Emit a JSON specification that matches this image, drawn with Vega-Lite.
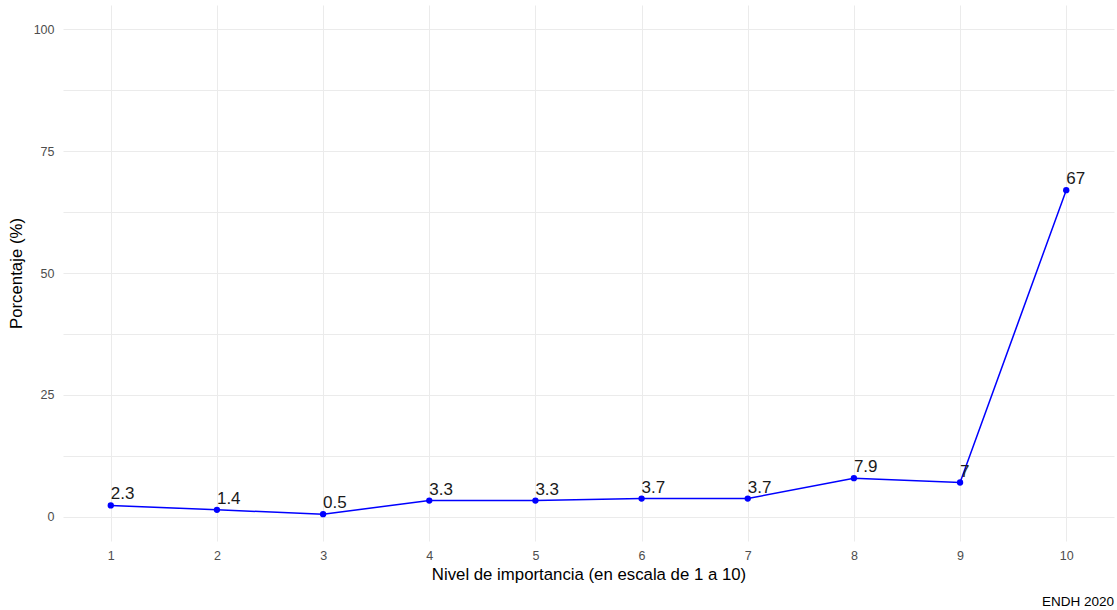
{
  "$schema": "https://vega.github.io/schema/vega-lite/v6.json",
  "width": 1051,
  "height": 536,
  "autosize": {"type": "none"},
  "padding": {"left": 63, "top": 5, "right": 3, "bottom": 69},
  "background": "white",
  "config": {
    "view": {"stroke": null},
    "font": "Liberation Sans",
    "axis": {
      "domain": false,
      "ticks": false,
      "gridColor": "#EBEBEB",
      "gridWidth": 1,
      "labelColor": "#4D4D4D",
      "labelFontSize": 12.5,
      "labelFont": "Liberation Sans",
      "titleFont": "Liberation Sans",
      "titleFontSize": 16.8,
      "titleFontWeight": "normal",
      "titleColor": "#000000"
    }
  },
  "title": {
    "text": "ENDH 2020",
    "orient": "bottom",
    "anchor": "end",
    "fontSize": 13.5,
    "fontWeight": "normal",
    "color": "#000000",
    "font": "Liberation Sans",
    "offset": 12
  },
  "data": {
    "values": [
      {"nivel": 1, "pct": 2.3, "label": "2.3"},
      {"nivel": 2, "pct": 1.4, "label": "1.4"},
      {"nivel": 3, "pct": 0.5, "label": "0.5"},
      {"nivel": 4, "pct": 3.3, "label": "3.3"},
      {"nivel": 5, "pct": 3.3, "label": "3.3"},
      {"nivel": 6, "pct": 3.7, "label": "3.7"},
      {"nivel": 7, "pct": 3.7, "label": "3.7"},
      {"nivel": 8, "pct": 7.9, "label": "7.9"},
      {"nivel": 9, "pct": 7.0, "label": "7"},
      {"nivel": 10, "pct": 67.0, "label": "67"}
    ]
  },
  "encoding": {
    "x": {
      "field": "nivel",
      "type": "quantitative",
      "scale": {"domain": [0.55, 10.45], "nice": false, "zero": false},
      "axis": {
        "title": "Nivel de importancia (en escala de 1 a 10)",
        "values": [1, 1.5, 2, 2.5, 3, 3.5, 4, 4.5, 5, 5.5, 6, 6.5, 7, 7.5, 8, 8.5, 9, 9.5, 10],
        "format": "d",
        "labelExpr": "datum.value % 1 == 0 ? datum.label : ''",
        "labelPadding": 8,
        "titlePadding": 5,
        "labelFlush": false,
        "labelOverlap": false
      }
    },
    "y": {
      "field": "pct",
      "type": "quantitative",
      "scale": {"domain": [-5, 105], "nice": false, "zero": false},
      "axis": {
        "title": "Porcentaje (%)",
        "values": [0, 12.5, 25, 37.5, 50, 62.5, 75, 87.5, 100],
        "format": "d",
        "labelExpr": "datum.value % 25 == 0 ? datum.label : ''",
        "labelPadding": 9,
        "titlePadding": 8,
        "labelFlush": false,
        "labelOverlap": false
      }
    }
  },
  "layer": [
    {"mark": {"type": "line", "color": "#0000FF", "strokeWidth": 1.5}},
    {"mark": {"type": "point", "filled": true, "color": "#0000FF", "size": 40, "opacity": 1}},
    {
      "mark": {"type": "text", "align": "left", "baseline": "alphabetic", "dy": -6, "fontSize": 17, "color": "#1A1A1A"},
      "encoding": {"text": {"field": "label"}}
    }
  ]
}
